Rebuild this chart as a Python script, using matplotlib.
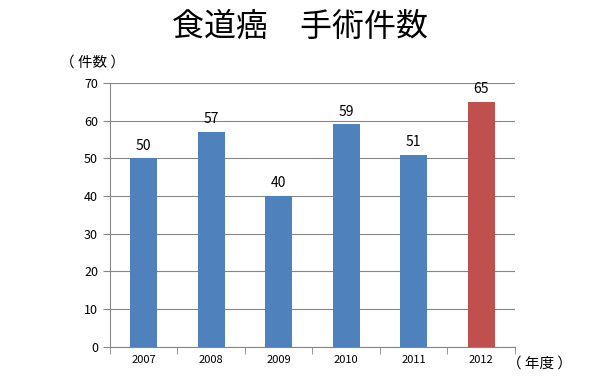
import matplotlib.pyplot as plt
import numpy as np

plt.rcParams['font.family'] = ['Noto Sans CJK JP', 'DejaVu Sans']

years = ['2007', '2008', '2009', '2010', '2011', '2012']
counts = [50, 57, 40, 59, 51, 65]
colors = ['#4F81BD'] * 5 + ['#C0504D']

fig = plt.figure(figsize=(6.1, 3.8), dpi=100)
ax = fig.add_axes([0.180, 0.087, 0.664, 0.695])

x = np.arange(len(years))
bars = ax.bar(x, counts, width=0.4, color=colors, zorder=3)
for xi, v in zip(x, counts):
    ax.text(xi, v + 1.5, str(v), ha='center', va='bottom', fontsize=10)

ax.set_xlim(-0.5, len(years) - 0.5)
ax.set_ylim(0, 70)
ax.set_yticks(range(0, 71, 10))
ax.set_xticks(x)
ax.set_xticklabels(years, fontsize=8)
ax.set_xticks(np.arange(-0.5, len(years)), minor=True)
ax.tick_params(axis='x', which='major', length=0, pad=6)
ax.tick_params(axis='x', which='minor', length=5, color='#868686')
ax.tick_params(axis='y', length=5, color='#868686', labelsize=9)
ax.grid(axis='y', color='#868686', linewidth=0.8, zorder=0)
for s in ['top', 'right']:
    ax.spines[s].set_visible(False)
ax.spines['left'].set_color('#868686')
ax.spines['bottom'].set_color('#868686')

fig.text(0.492, 0.93, '食道癌\u3000手術件数', ha='center', va='center', fontsize=23)
fig.text(0.152, 0.835, '（ 件数 ）', ha='center', va='center', fontsize=10.5)
fig.text(0.885, 0.042, '（ 年度 ）', ha='center', va='center', fontsize=10.5)

fig.savefig('out.png', dpi=100)
